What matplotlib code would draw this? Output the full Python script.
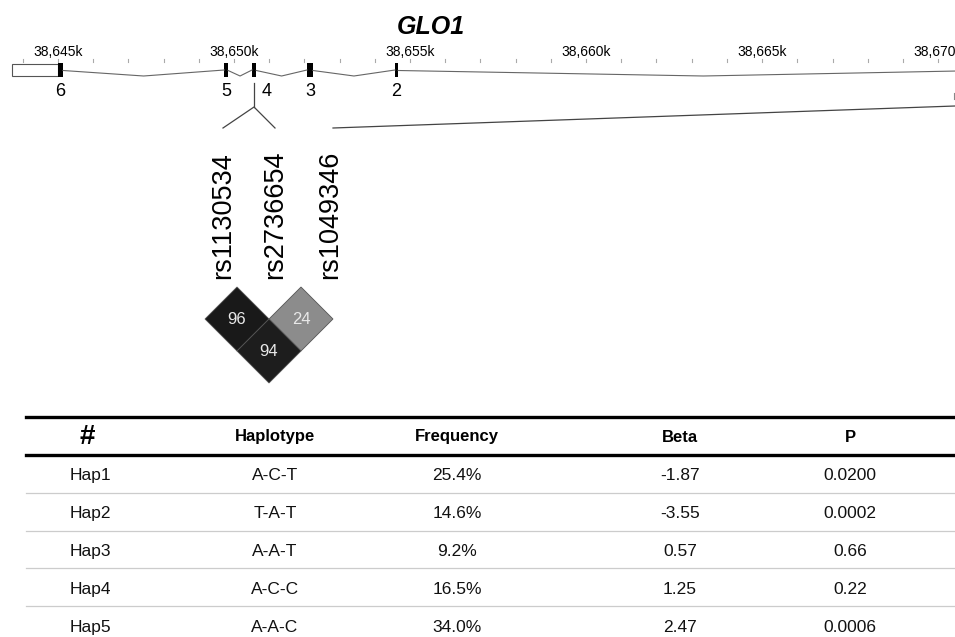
import matplotlib.pyplot as plt
from matplotlib.patches import Polygon, Rectangle

plt.rcParams['font.family'] = ['Liberation Sans', 'DejaVu Sans']

# gene model (positions in kb on chr)
gene_name = "GLO1"
tick_kb = [38645, 38650, 38655, 38660, 38665, 38670]
utr_kb = (38643.69, 38645.0)
exon_ids = ["6", "5", "4", "3", "2"]
exon_start_kb = [38645.00, 38649.72, 38650.51, 38652.07, 38654.57]
exon_end_kb = [38645.14, 38649.83, 38650.63, 38652.24, 38654.66]
next_exon_kb = 38672.0   # exon 1 lies past the shown window

# LD block
snps = ["rs1130534", "rs2736654", "rs1049346"]
ld_pairs = [(0, 1), (1, 2), (0, 2)]
ld_values = [96, 24, 94]

# haplotype table
columns = ["#", "Haplotype", "Frequency", "Beta", "P"]
hap_ids = ["Hap1", "Hap2", "Hap3", "Hap4", "Hap5"]
haplotypes = ["A-C-T", "T-A-T", "A-A-T", "A-C-C", "A-A-C"]
freqs = ["25.4%", "14.6%", "9.2%", "16.5%", "34.0%"]
betas = ["-1.87", "-3.55", "0.57", "1.25", "2.47"]
pvals = ["0.0200", "0.0002", "0.66", "0.22", "0.0006"]

W, H = 955, 637
fig = plt.figure(figsize=(W / 100, H / 100), dpi=100)

# --- gene track: x in kb, y in pixels ---
axg = fig.add_axes([0, 0, 1, 1])
axg.set_xlim(38643.35, 38670.48)
axg.set_ylim(H, 0)
axg.axis('off')

axg.text(38655.6, 27, gene_name, ha='center', va='center', fontsize=18,
         fontweight='bold', fontstyle='italic')
for k in tick_kb:
    axg.text(k, 52, f"{k // 1000},{k % 1000:03d}k", ha='center', va='center', fontsize=10)
for k in range(38644, 38671):
    axg.plot([k, k], [58.5, 61.5], color='#aaaaaa', lw=0.8)

yc = 70
axg.add_patch(Rectangle((utr_kb[0], 64), utr_kb[1] - utr_kb[0], 12, facecolor='white',
                        edgecolor='#555555', lw=0.8))
ends = exon_end_kb
starts = exon_start_kb[1:] + [next_exon_kb]
for a, b in zip(ends, starts):
    axg.plot([a, (a + b) / 2, b], [yc + 0.5, yc + 6, yc], color='#666666', lw=0.8)
for i, (s, e) in enumerate(zip(exon_start_kb, exon_end_kb)):
    axg.add_patch(Rectangle((s, 63), e - s, 14, facecolor='black', edgecolor='none'))
    dx = 0.35 if exon_ids[i] == "4" else 0.0
    axg.text((s + e) / 2 + dx, 92, exon_ids[i], ha='center', va='center', fontsize=13)

# --- LD plot and table: pixel coordinates ---
ax = fig.add_axes([0, 0, 1, 1])
ax.set_xlim(0, W)
ax.set_ylim(H, 0)
ax.axis('off')

# connector from exon 4 / downstream to SNP labels
snp4_x = 254
label_x = [223, 275, 330]
ax.plot([snp4_x, snp4_x], [83, 107], color='#444444', lw=0.9)
ax.plot([label_x[0], snp4_x, label_x[1]], [128, 107, 128], color='#444444', lw=0.9)
ax.plot([333, W], [128, 106], color='#444444', lw=0.9)
ax.plot([W - 1, W - 1], [93, 99], color='#888888', lw=0.8)

for x, name in zip(label_x, snps):
    ax.text(x, 279, name, rotation=90, ha='center', va='bottom', fontsize=19.5)

# diamonds: marker anchors spaced 64 px apart
marker_x = [205, 269, 333]
top_y = 287
half = 32
for (i, j), v in zip(ld_pairs, ld_values):
    cx = (marker_x[i] + marker_x[j]) / 2
    cy = top_y + half * (j - i)
    g = min(0.9, max(0.07, 0.7 - 0.00625 * v))
    ax.add_patch(Polygon([(cx, cy - half), (cx + half, cy), (cx, cy + half), (cx - half, cy)],
                         closed=True, facecolor=(g, g, g), edgecolor='#555555', lw=0.6))
    ax.text(cx, cy, str(v), ha='center', va='center', fontsize=12, color='#e8e8e8')

# table
col_x = [87, 275, 457, 680, 850]
ax.plot([26, W], [417, 417], color='black', lw=2.4)
ax.plot([26, W], [455, 455], color='black', lw=2.4)
for cx, c in zip(col_x, columns):
    ax.text(cx, 437, c, ha='center', va='center', fontweight='bold',
            fontsize=20 if c == "#" else 12)

row_h = 37.8
for r, row in enumerate(zip(hap_ids, haplotypes, freqs, betas, pvals)):
    yr = 455 + row_h * (r + 0.5) + 2
    for cx, val in zip(col_x, row):
        ax.text(cx + (3 if cx == 87 else 0), yr, val, ha='center', va='center', fontsize=12.5,
                color='#111111')
    if r < len(hap_ids) - 1:
        yl = 455 + row_h * (r + 1)
        ax.plot([26, W], [yl, yl], color='#cccccc', lw=0.9)

fig.savefig('out.png', dpi=100)
